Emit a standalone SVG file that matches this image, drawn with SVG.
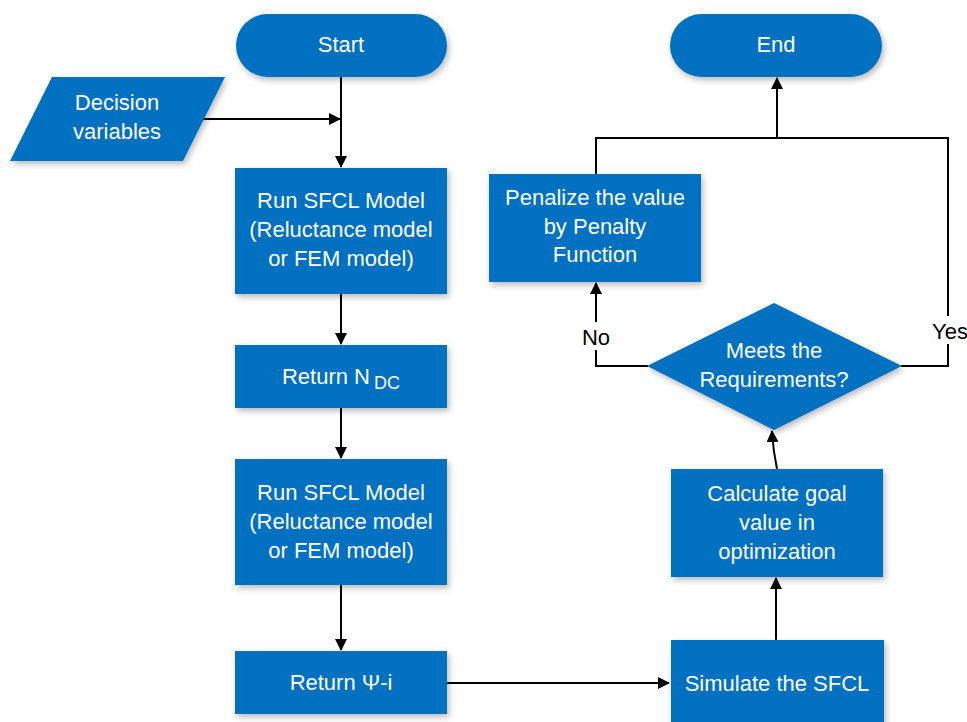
<svg xmlns="http://www.w3.org/2000/svg" width="967" height="722" viewBox="0 0 967 722">
  <style>
    .shape { fill: #0070C0; filter: url(#shadow); }
    .label { fill: #ffffff; font-family: "Liberation Sans", Arial, sans-serif; font-size: 22px; text-anchor: middle; }
    .note { fill: #000000; font-family: "Liberation Sans", Arial, sans-serif; font-size: 22px; }
    .wire { fill: none; stroke: #000000; stroke-width: 2; }
  </style>
  <defs>
    <filter id="shadow" x="-10%" y="-10%" width="125%" height="130%">
      <feDropShadow dx="2" dy="3" stdDeviation="3" flood-color="#000000" flood-opacity="0.28"/>
    </filter>
    <marker id="arrow" viewBox="0 0 12 12" refX="11" refY="6" markerWidth="12" markerHeight="12" markerUnits="userSpaceOnUse" orient="auto">
      <path d="M0,0 L12,6 L0,12 Z" fill="#000000"/>
    </marker>
  </defs>
  <rect width="967" height="722" fill="#ffffff"/>

  <!-- connectors -->
  <g id="connectors">
    <path class="wire" d="M341,77 V167" marker-end="url(#arrow)"/>
    <path class="wire" d="M203,119 H340" marker-end="url(#arrow)"/>
    <path class="wire" d="M341,294 V344" marker-end="url(#arrow)"/>
    <path class="wire" d="M341,408 V458" marker-end="url(#arrow)"/>
    <path class="wire" d="M341,585 V650" marker-end="url(#arrow)"/>
    <path class="wire" d="M447,683 H669" marker-end="url(#arrow)"/>
    <path class="wire" d="M776,640 V578" marker-end="url(#arrow)"/>
    <path class="wire" d="M777,469 Q773,450 772,431" marker-end="url(#arrow)"/>
    <path class="wire" d="M648,366 H596 V283" marker-end="url(#arrow)"/>
    <path class="wire" d="M901,366 H948 V138 H596 V174"/>
    <path class="wire" d="M777,138 V78" marker-end="url(#arrow)"/>
    <rect x="577" y="322" width="38" height="28" fill="#ffffff"/>
    <text class="note" x="596" y="345" text-anchor="middle">No</text>
    <rect x="929" y="316" width="38" height="28" fill="#ffffff"/>
    <text class="note" x="932" y="339">Yes</text>
  </g>

  <g id="start">
    <rect class="shape" x="236" y="14" width="211" height="63" rx="31.5"/>
    <text class="label" x="341" y="52">Start</text>
  </g>

  <g id="end">
    <rect class="shape" x="670" y="14" width="212" height="63" rx="31.5"/>
    <text class="label" x="776" y="52">End</text>
  </g>

  <g id="decision-variables">
    <polygon class="shape" points="52,77 225,77 183,161 10,161"/>
    <text class="label" x="117" y="110">Decision</text>
    <text class="label" x="117" y="139">variables</text>
  </g>

  <g id="run-model-1">
    <rect class="shape" x="235" y="168" width="212" height="126"/>
    <text class="label" x="341" y="208">Run SFCL Model</text>
    <text class="label" x="341" y="237">(Reluctance model</text>
    <text class="label" x="341" y="266">or FEM model)</text>
  </g>

  <g id="return-ndc">
    <rect class="shape" x="235" y="345" width="212" height="63"/>
    <text class="label" x="341" y="384">Return N<tspan font-size="18" dx="4" dy="5">DC</tspan></text>
  </g>

  <g id="run-model-2">
    <rect class="shape" x="235" y="459" width="212" height="126"/>
    <text class="label" x="341" y="500">Run SFCL Model</text>
    <text class="label" x="341" y="529">(Reluctance model</text>
    <text class="label" x="341" y="558">or FEM model)</text>
  </g>

  <g id="return-psi">
    <rect class="shape" x="235" y="651" width="212" height="63"/>
    <text class="label" x="341" y="690">Return Ψ-i</text>
  </g>

  <g id="simulate">
    <rect class="shape" x="671" y="640" width="213" height="90"/>
    <text class="label" x="777" y="691">Simulate the SFCL</text>
  </g>

  <g id="calculate-goal">
    <rect class="shape" x="671" y="469" width="212" height="108"/>
    <text class="label" x="777" y="501">Calculate goal</text>
    <text class="label" x="777" y="530">value in</text>
    <text class="label" x="777" y="559">optimization</text>
  </g>

  <g id="requirements">
    <polygon class="shape" points="774,303 902,366 774,430 647,366"/>
    <text class="label" x="774" y="358">Meets the</text>
    <text class="label" x="774" y="387">Requirements?</text>
  </g>

  <g id="penalize">
    <rect class="shape" x="489" y="174" width="212" height="108"/>
    <text class="label" x="595" y="205">Penalize the value</text>
    <text class="label" x="595" y="234">by Penalty</text>
    <text class="label" x="595" y="262">Function</text>
  </g>
</svg>
